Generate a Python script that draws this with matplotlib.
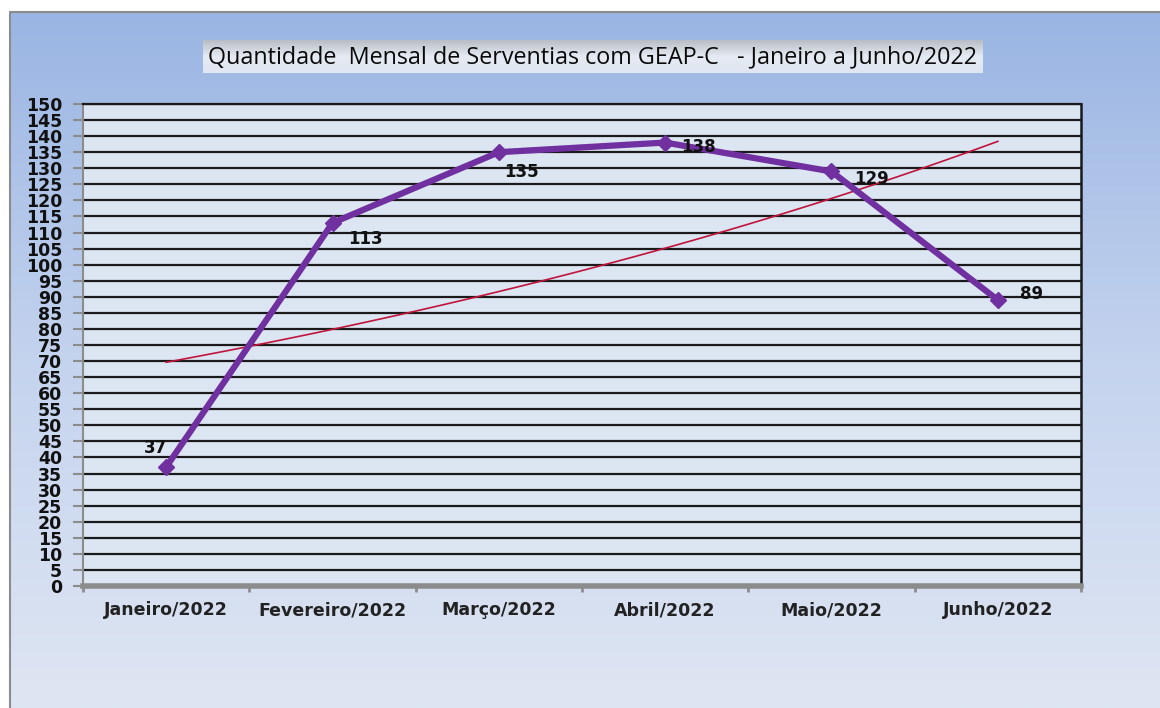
import numpy as np
import matplotlib
matplotlib.use("Agg")
import matplotlib.pyplot as plt
from matplotlib.colors import LinearSegmentedColormap

categories = ["Janeiro/2022", "Fevereiro/2022", "Março/2022", "Abril/2022", "Maio/2022", "Junho/2022"]
values = [37, 113, 135, 138, 129, 89]
yticks = list(range(0, 151, 5))
title = "Quantidade  Mensal de Serventias com GEAP-C   - Janeiro a Junho/2022"

W, H = 1160, 708
fig = plt.figure(figsize=(W / 100, H / 100), dpi=100)

# background gradient
bg = fig.add_axes([0, 0, 1, 1])
bg.set_xlim(0, W)
bg.set_ylim(H, 0)
bg.axis("off")
cmap = LinearSegmentedColormap.from_list("bg", ["#9ab5e3", "#c4d3ee", "#dfe6f3"])
grad = np.linspace(0, 1, 256).reshape(-1, 1)
bg.imshow(grad, cmap=cmap, aspect="auto", extent=(10, W, H, 12), zorder=0)
bg.plot([10, 10, W], [H, 12, 12], color="#8c8c8c", lw=1.5, zorder=1)

# title box
tcmap = LinearSegmentedColormap.from_list("tb", ["#b8bcc4", "#e6eaf2", "#dfe6f3"])
bg.imshow(grad, cmap=tcmap, aspect="auto", extent=(203, 983, 73, 40), zorder=2)
bg.text(593, 57, title, ha="center", va="center", fontsize=16.8, family="Open Sans",
        color="#0a0a0a", zorder=3, fontweight="medium")

# main axes
left, right, top, bottom = 83, 1081, 104, 586
ax = fig.add_axes([left / W, 1 - bottom / H, (right - left) / W, (bottom - top) / H])
ax.set_facecolor("#dce6f2")
x = np.arange(len(categories))
ax.set_xlim(-0.5, len(categories) - 0.5)
ax.set_ylim(0, 150)

for yv in yticks[1:]:
    ax.axhline(yv, color="#1a1a1a", lw=1.6, zorder=1)

# exponential trend line
coef = np.polyfit(x, np.log(values), 1)
xt = np.linspace(0, len(categories) - 1, 100)
ax.plot(xt, np.exp(np.polyval(coef, xt)), color="#c0143c", lw=1.2, zorder=2)

ax.plot(x, values, color="#7030a0", lw=4.5, marker="D", markersize=8, zorder=3)

offsets = [(-8, 14), (24, -11.5), (16, -14.5), (24, -3.5), (29, -5.5), (24, 4.5)]
for xi, v, (dx, dy) in zip(x, values, offsets):
    ax.annotate(str(v), (xi, v), xytext=(dx, dy), textcoords="offset points",
                ha="center", va="center", fontsize=12, fontweight="bold", color="#111111", zorder=4)

ax.set_yticks(yticks)
ax.set_yticklabels([str(t) for t in yticks], fontsize=12.5, fontweight="bold", color="#111111")
ax.set_xticks(x)
ax.set_xticklabels(categories, fontsize=12.5, fontweight="bold", color="#222222")
ax.set_xticks(np.arange(-0.5, len(categories), 1), minor=True)
ax.tick_params(axis="x", which="major", length=0, pad=11)
ax.tick_params(axis="x", which="minor", length=4, width=2, color="#8c8c8c")
ax.tick_params(axis="y", length=7, width=1.5, color="#8c8c8c", pad=8)

ax.spines["bottom"].set_color("#8c8c8c")
ax.spines["bottom"].set_linewidth(4)
ax.spines["left"].set_color("#8c8c8c")
ax.spines["left"].set_linewidth(1.5)
ax.spines["right"].set_color("#1a1a1a")
ax.spines["right"].set_linewidth(1.8)
ax.spines["top"].set_color("#1a1a1a")
ax.spines["top"].set_linewidth(1.6)

fig.savefig("out.png", dpi=100)
